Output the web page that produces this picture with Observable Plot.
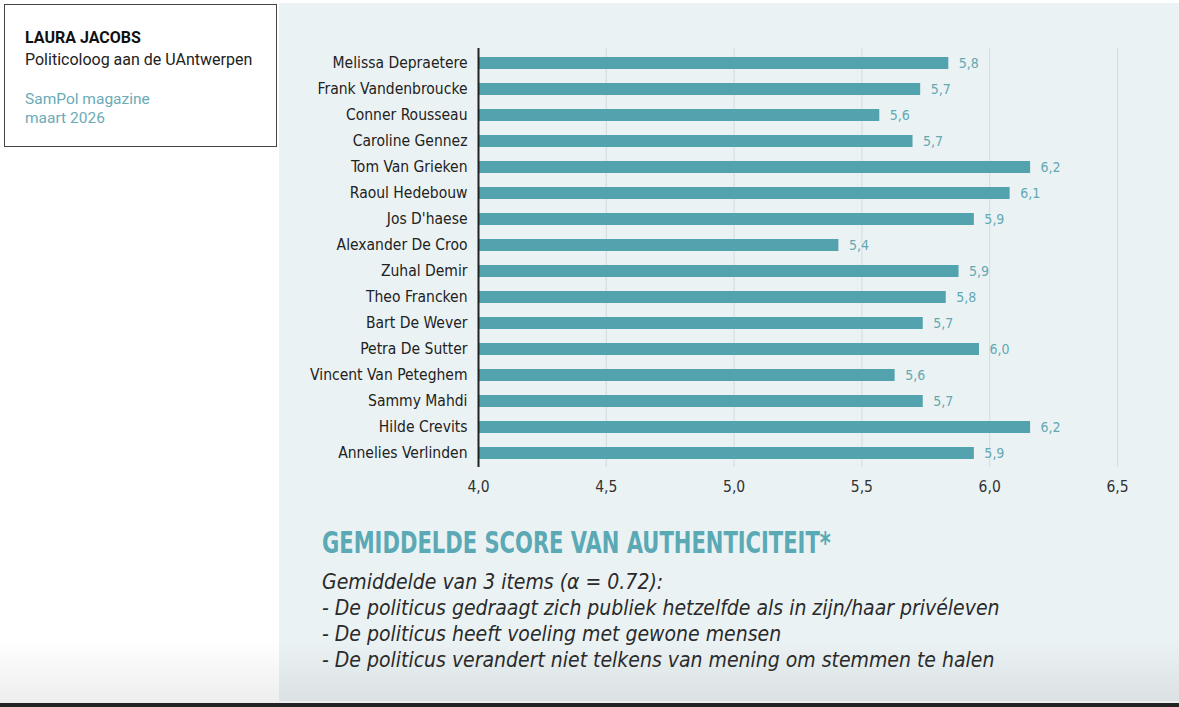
<!DOCTYPE html>
<html>
<head>
<meta charset="utf-8">
<script src="https://cdn.jsdelivr.net/npm/d3@7"></script>
<script src="https://cdn.jsdelivr.net/npm/@observablehq/plot@0.6"></script>
<style>
  html, body { margin: 0; padding: 0; background: #fff; }
  body { width: 1179px; height: 707px; position: relative; overflow: hidden; font-family: Roboto, "Liberation Sans", sans-serif; }
  #box { position: absolute; left: 4px; top: 4px; width: 273px; height: 143px; border: 1px solid #444; box-sizing: border-box; background: #fff; }
  #box .a { position: absolute; left: 20px; top: 23px; font-size: 16px; font-weight: bold; color: #111; }
  #box .b { position: absolute; left: 20px; top: 45px; font-size: 16px; color: #222; }
  #box .c { position: absolute; left: 20px; top: 85px; font-size: 15.5px; color: #6aabb6; line-height: 19px; }
  #panel { position: absolute; left: 279px; top: 3px; width: 900px; height: 698px; background: #ebf2f4; }
  #chart { position: absolute; left: 279px; top: 0; }
  #title { position: absolute; left: 322px; top: 525px; font-family: "DejaVu Sans Condensed", sans-serif; font-weight: bold; font-size: 30px; color: #5aa9b4; transform: scaleX(0.78); transform-origin: 0 0; white-space: nowrap; }
  #sub { position: absolute; left: 322px; top: 569px; font-family: "DejaVu Sans Condensed", sans-serif; font-style: italic; font-size: 21px; line-height: 26px; color: #2a2a2a; white-space: nowrap; }
  #shade { position: absolute; left: 0; top: 640px; width: 1179px; height: 63px; background: linear-gradient(rgba(0,0,0,0), rgba(0,0,0,0.07)); }
  #bottom { position: absolute; left: 0; top: 703px; width: 1179px; height: 4px; background: #222; }
</style>
</head>
<body>
<div id="panel"></div>
<div id="shade"></div>
<div id="box">
  <div class="a">LAURA JACOBS</div>
  <div class="b">Politicoloog aan de UAntwerpen</div>
  <div class="c">SamPol magazine<br>maart 2026</div>
</div>
<div id="chart"></div>
<div id="title">GEMIDDELDE SCORE VAN AUTHENTICITEIT*</div>
<div id="sub">Gemiddelde van 3 items (α = 0.72):<br>- De politicus gedraagt zich publiek hetzelfde als in zijn/haar privéleven<br>- De politicus heeft voeling met gewone mensen<br>- De politicus verandert niet telkens van mening om stemmen te halen</div>
<div id="bottom"></div>
<script>
const names = [
  "Melissa Depraetere", "Frank Vandenbroucke", "Conner Rousseau", "Caroline Gennez",
  "Tom Van Grieken", "Raoul Hedebouw", "Jos D'haese", "Alexander De Croo",
  "Zuhal Demir", "Theo Francken", "Bart De Wever", "Petra De Sutter",
  "Vincent Van Peteghem", "Sammy Mahdi", "Hilde Crevits", "Annelies Verlinden"
];
const scores = [5.84, 5.73, 5.57, 5.70, 6.16, 6.08, 5.94, 5.41, 5.88, 5.83, 5.74, 5.96, 5.63, 5.74, 6.16, 5.94];
const xTicks = [4.0, 4.5, 5.0, 5.5, 6.0, 6.5];

const data = names.map((name, i) => ({name, score: scores[i]}));
const fmt = v => v.toFixed(1).replace(".", ",");
const narrow = '"DejaVu Sans Condensed", sans-serif';

const chart = Plot.plot({
  width: 900,
  height: 502,
  marginLeft: 199,
  marginRight: 62,
  marginTop: 48,
  marginBottom: 35,
  style: {background: "transparent", fontFamily: narrow},
  x: {domain: [4, 6.5], ticks: xTicks, tickFormat: fmt, label: null},
  y: {domain: names, paddingInner: 0.54, paddingOuter: 0.27, label: null},
  marks: [
    Plot.ruleX(xTicks.slice(1), {stroke: "#d3dcdf", strokeWidth: 1}),
    Plot.barX(data, {x1: 4, x2: "score", y: "name", fill: "#52a3ad"}),
    Plot.ruleX([4], {stroke: "#222", strokeWidth: 2}),
    Plot.text(data, {x: "score", y: "name", text: d => fmt(d.score), dx: 10, textAnchor: "start", fill: "#62a9b3", fontSize: 14}),
    Plot.axisY({tickSize: 0, tickPadding: 11, fontSize: 15.5, color: "#222", label: null}),
    Plot.axisX({ticks: xTicks, tickFormat: fmt, tickSize: 0, tickPadding: 13, fontSize: 15.5, color: "#333", label: null})
  ]
});
document.getElementById("chart").appendChild(chart);
</script>
</body>
</html>
